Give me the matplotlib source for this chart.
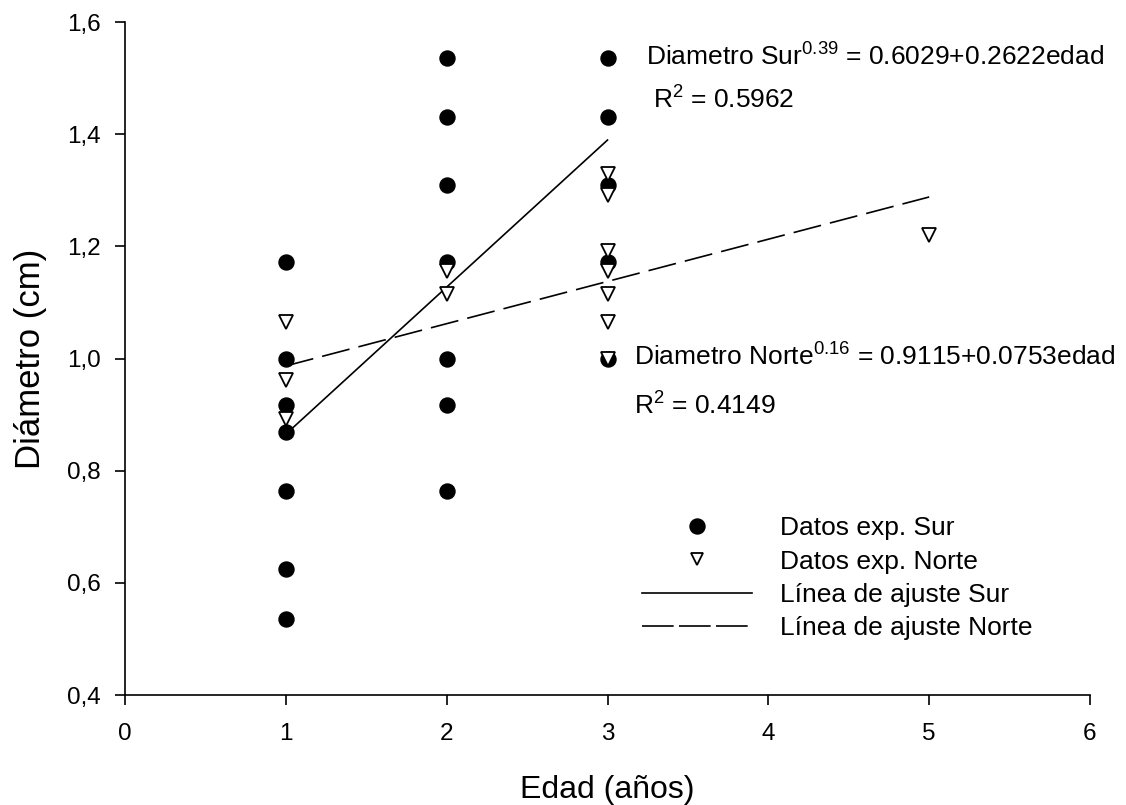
import matplotlib
matplotlib.use("Agg")
import matplotlib.pyplot as plt
from matplotlib.lines import Line2D
from matplotlib.ticker import FuncFormatter

plt.rcParams['font.family'] = ['Liberation Sans', 'DejaVu Sans']
plt.rcParams['mathtext.fontset'] = 'custom'
plt.rcParams['mathtext.rm'] = 'Liberation Sans'
plt.rcParams['mathtext.it'] = 'Liberation Sans:italic'

# datos experimentales
sur_x = [1, 1, 1, 1, 1, 1, 1, 2, 2, 2, 2, 2, 2, 2, 3, 3, 3, 3, 3]
sur_y = [1.172, 1.0, 0.917, 0.869, 0.763, 0.625, 0.535,
         1.535, 1.43, 1.31, 1.172, 1.0, 0.917, 0.763,
         1.535, 1.43, 1.31, 1.172, 1.0]

norte_x = [1, 1, 1, 2, 2, 3, 3, 3, 3, 3, 3, 3, 5]
norte_y = [1.065, 0.962, 0.893, 1.156, 1.115,
           1.329, 1.291, 1.192, 1.156, 1.115, 1.065, 1.0, 1.22]

# lineas de ajuste (extremos)
sur_fit_x = [1, 3]
sur_fit_y = [0.8651, 1.3895]
norte_fit_x = [1, 5]
norte_fit_y = [0.9868, 1.2880]

x_ticks = [0, 1, 2, 3, 4, 5, 6]
y_ticks = [0.4, 0.6, 0.8, 1.0, 1.2, 1.4, 1.6]

fig = plt.figure(figsize=(11.26, 8.05), dpi=100)
ax = fig.add_axes([125/1126, 1-695/805, 965/1126, 673/805])

ax.plot(sur_fit_x, sur_fit_y, color='black', lw=1.2, zorder=2)
ax.plot(norte_fit_x, norte_fit_y, color='black', lw=1.2,
        linestyle=(0, (17, 5.5)), zorder=2)
ax.plot(sur_x, sur_y, 'o', color='black', ms=10.8, zorder=3)
ax.plot(norte_x, norte_y, 'v', mfc='white', mec='black', mew=1.3, ms=9.5, zorder=4)

ax.set_xlim(0, 6)
ax.set_ylim(0.4, 1.6)
ax.set_xticks(x_ticks)
ax.set_yticks(y_ticks)
ax.yaxis.set_major_formatter(FuncFormatter(lambda v, p: ('%.1f' % v).replace('.', ',')))
ax.spines['top'].set_visible(False)
ax.spines['right'].set_visible(False)
for s in ['left', 'bottom']:
    ax.spines[s].set_linewidth(1.2)
ax.tick_params(direction='out', length=7.5, width=1.2, labelsize=17.5)
ax.tick_params(axis='x', pad=13)
ax.tick_params(axis='y', pad=10)

ax.set_xlabel('Edad (años)', fontsize=23, labelpad=21)
ax.set_ylabel('Diámetro (cm)', fontsize=25, labelpad=14)

# ecuaciones
fig.text(646/1126, 1-66/805, r'Diametro Sur$^{0.39}$ = 0.6029+0.2622edad',
         fontsize=19, va='baseline')
fig.text(653/1126, 1-109/805, r'R$^{2}$ = 0.5962', fontsize=19, va='baseline')
fig.text(634/1126, 1-366/805, r'Diametro Norte$^{0.16}$ = 0.9115+0.0753edad',
         fontsize=19, va='baseline')
fig.text(634/1126, 1-415/805, r'R$^{2}$ = 0.4149', fontsize=19, va='baseline')

handles = [
    Line2D([], [], marker='o', color='black', ls='none', ms=10.8),
    Line2D([], [], marker='v', mfc='white', mec='black', mew=1.3, ls='none', ms=8.5),
    Line2D([], [], color='black', lw=1.2),
    Line2D([], [], color='black', lw=1.2, linestyle=(0, (19, 3.2))),
]
labels = ['Datos exp. Sur', 'Datos exp. Norte', 'Línea de ajuste Sur', 'Línea de ajuste Norte']
fig.legend(handles, labels, loc='upper left', bbox_to_anchor=(642/1126, 1-516/805),
           frameon=False, fontsize=19, handlelength=4.17, handletextpad=1.06,
           labelspacing=0.36, borderpad=0, borderaxespad=0)

fig.savefig('out.png', dpi=100)
